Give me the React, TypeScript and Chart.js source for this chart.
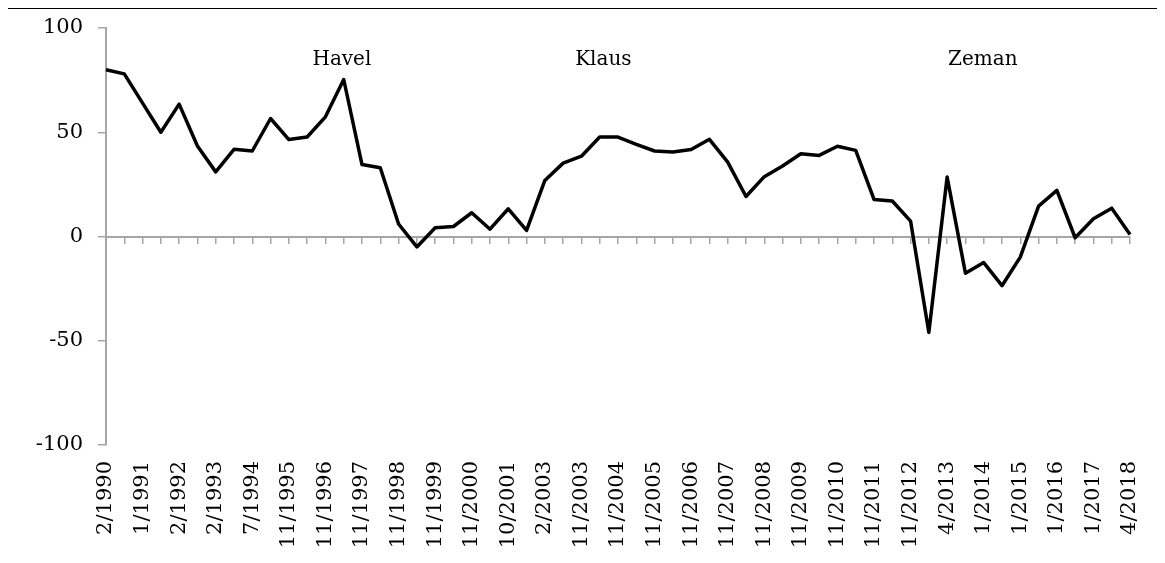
import React, { useEffect, useRef } from "react";
import { Chart, registerables } from "chart.js";

Chart.register(...registerables);

const tickLabels: string[] = [
  "2/1990", "1/1991", "2/1992", "2/1993", "7/1994", "11/1995", "11/1996", "11/1997",
  "11/1998", "11/1999", "11/2000", "10/2001", "2/2003", "11/2003", "11/2004", "11/2005",
  "11/2006", "11/2007", "11/2008", "11/2009", "11/2010", "11/2011", "11/2012", "4/2013",
  "1/2014", "1/2015", "1/2016", "1/2017", "4/2018",
];

const values: number[] = [
  80, 78, 64, 50, 63.5, 43.4, 31, 41.8, 41, 56.6,
  46.5, 47.7, 57.4, 75.3, 34.5, 33, 6, -5, 4.2, 4.8,
  11.4, 3.5, 13.3, 2.9, 26.9, 35.2, 38.5, 47.7, 47.7, 44.2,
  41, 40.5, 41.7, 46.6, 35.7, 19.2, 28.7, 33.8, 39.7, 38.9,
  43.3, 41.3, 17.8, 17, 7.4, -46, 28.5, -17.6, -12.5, -23.6,
  -9.9, 14.6, 22.1, -0.6, 8.5, 13.6, 1,
];

const annotationNames: string[] = ["Havel", "Klaus", "Zeman"];
const annotationIndex: number[] = [12.9, 27.2, 47.95];
const annotationValue: number[] = [84.6, 84.6, 84.6];

const yTicks = { min: -100, max: 100, step: 50 };

const categories: string[] = values.map((_, i) => (i % 2 === 0 ? tickLabels[i / 2] ?? "" : ""));

const FONT = "'DejaVu Serif', serif";
const GRAY = "#A6A6A6";

const annotationPlugin = {
  id: "presidentLabels",
  afterDatasetsDraw(chart: any) {
    const { ctx, scales } = chart;
    ctx.save();
    ctx.font = `20px ${FONT}`;
    ctx.fillStyle = "#000";
    ctx.textAlign = "center";
    ctx.textBaseline = "middle";
    annotationNames.forEach((name, i) => {
      const x = scales.x.getPixelForValue(annotationIndex[i]);
      const y = scales.y.getPixelForValue(annotationValue[i]);
      ctx.fillText(name, x, y);
    });
    ctx.restore();
  },
};

export default function App() {
  const canvasRef = useRef<HTMLCanvasElement | null>(null);

  useEffect(() => {
    if (!canvasRef.current) return;
    Chart.defaults.font.family = FONT;
    Chart.defaults.color = "#000";
    const chart = new Chart(canvasRef.current, {
      type: "line",
      data: {
        labels: categories,
        datasets: [
          {
            data: values,
            borderColor: "#000",
            borderWidth: 3.5,
            pointRadius: 0,
            tension: 0,
            borderJoinStyle: "round",
            fill: false,
          },
        ],
      },
      options: {
        animation: false,
        responsive: true,
        maintainAspectRatio: false,
        layout: { padding: { top: 19, right: 27, left: 0, bottom: 0 } },
        plugins: { legend: { display: false }, tooltip: { enabled: false } },
        scales: {
          x: {
            type: "category",
            offset: false,
            position: "bottom",
            border: { display: false },
            grid: { display: false, drawTicks: false },
            ticks: {
              autoSkip: false,
              minRotation: 90,
              maxRotation: 90,
              padding: 16,
              font: { size: 21, family: FONT },
              color: "#000",
            },
            afterFit: (scale: any) => {
              scale.height = 110;
              scale.paddingLeft = 0;
              scale.paddingRight = 0;
            },
          },
          x2: {
            type: "category",
            offset: false,
            position: { y: 0 } as any,
            border: { display: true, color: GRAY, width: 2 },
            grid: { display: true, drawOnChartArea: false, drawTicks: true, tickLength: 6, color: GRAY, lineWidth: 1.5 },
            ticks: { display: false, autoSkip: false },
            afterFit: (scale: any) => {
              scale.paddingLeft = 0;
              scale.paddingRight = 0;
            },
          },
          y: {
            min: yTicks.min,
            max: yTicks.max,
            border: { display: true, color: GRAY, width: 2 },
            grid: { display: true, drawOnChartArea: false, drawTicks: true, tickLength: 8, color: GRAY, lineWidth: 1.5 },
            ticks: {
              stepSize: yTicks.step,
              padding: 15,
              font: { size: 21, family: FONT },
              color: "#000",
            },
            afterFit: (scale: any) => {
              scale.width = 98;
              scale.paddingTop = 0;
              scale.paddingBottom = 0;
            },
          },
        },
      },
      plugins: [annotationPlugin],
    });
    return () => chart.destroy();
  }, []);

  return (
    <div style={{ borderTop: "3px solid #000", marginTop: -2, marginRight: -8 }}>
      <div style={{ width: 1149, height: 546, position: "relative" }}>
        <canvas ref={canvasRef} />
      </div>
    </div>
  );
}
